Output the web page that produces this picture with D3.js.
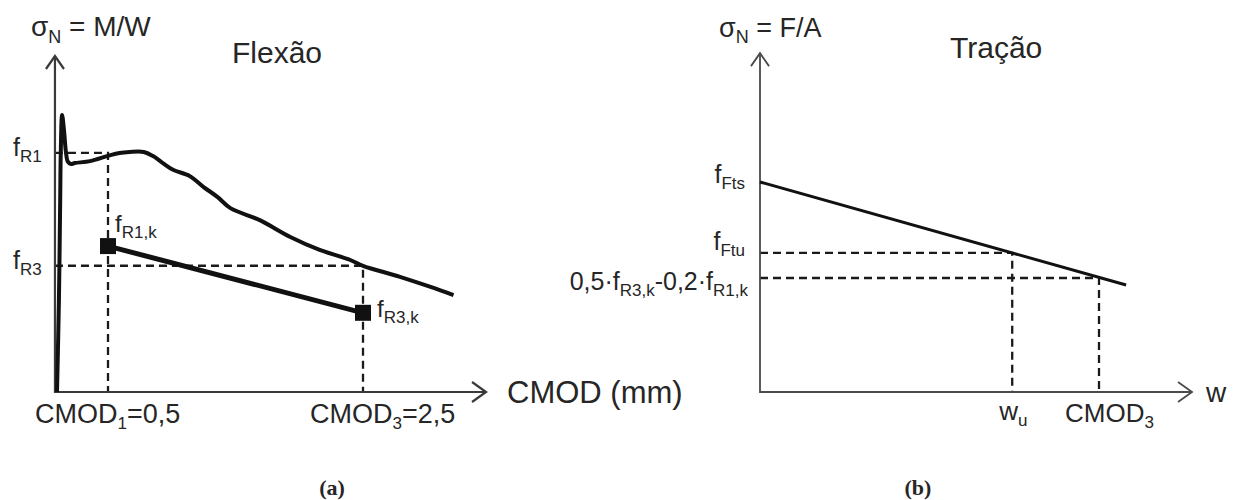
<!DOCTYPE html>
<html>
<head>
<meta charset="utf-8">
<script src="https://cdn.jsdelivr.net/npm/d3@7"></script>
<style>
  body { margin: 0; background: #fff; }
  text { font-family: "Liberation Sans", Arial, sans-serif; fill: #262626; }
</style>
</head>
<body>
<script>
// (a) flexure: residual stress curve, CMOD in mm vs sigma (schematic units)
var curveCmod  = [0.10, 0.115, 0.125, 0.13, 0.14, 0.155, 0.17, 0.185, 0.21, 0.24, 0.36, 0.50, 0.59, 0.67, 0.78, 0.85, 0.93, 1.01, 1.14, 1.25, 1.36, 1.46, 1.69, 1.93, 2.16, 2.40, 2.50, 2.79, 3.03, 3.21];
var curveSigma = [0.00, 1.90, 4.00, 5.05, 5.77, 5.45, 5.00, 4.80, 4.75, 4.77, 4.81, 4.92, 4.98, 5.00, 5.00, 4.92, 4.77, 4.63, 4.50, 4.27, 4.06, 3.83, 3.58, 3.23, 2.96, 2.75, 2.63, 2.40, 2.19, 2.02];
var charCmod  = [0.5, 2.5];      // fR1,k and fR3,k
var charSigma = [3.04, 1.65];
var fR1 = 4.98, fR3 = 2.63;
var flexAxisX = [0.084, 3.465];
var flexAxisY = [0, 7];

// (b) tension: linear model
var tensW     = [0, 2.70];
var tensSigma = [4.375, 2.229];
var wu = 1.86, cmod3 = 2.5;
var fFtu = 2.897, fResid = 2.375;
var tensAxisX = [0, 3.186];
var tensAxisY = [0, 7.06];

var svg = d3.select("body").append("svg")
    .attr("width", 1233)
    .attr("height", 500);

var xL = d3.scaleLinear().domain([0.5, 2.5]).range([108, 363]);
var yL = d3.scaleLinear().domain([0, 7]).range([392, 56]);
var xR = d3.scaleLinear().domain([0, 2.5]).range([760, 1099]);
var yR = d3.scaleLinear().domain([0, 7]).range([392, 56]);

// text with subscripts: parts = [[string, isSub], ...]
function label(g, x, y, parts, size, subSize, anchor) {
    var t = g.append("text")
        .attr("x", x).attr("y", y)
        .attr("font-size", size)
        .attr("text-anchor", anchor || "start");
    var shift = 0;
    parts.forEach(function(p) {
        var target = p[1] ? Math.round(size * 0.24) : 0;
        t.append("tspan")
            .attr("dy", target - shift)
            .attr("font-size", p[1] ? subSize : size)
            .text(p[0]);
        shift = target;
    });
    return t;
}

function axes(g, xs, ys, ax, ay, color, width) {
    var x0 = xs(ax[0]), x1 = xs(ax[1]), y0 = ys(ay[0]), y1 = ys(ay[1]);
    g.append("path")
        .attr("d", "M" + x0 + "," + y1 + "L" + x0 + "," + y0 + "L" + x1 + "," + y0)
        .attr("fill", "none").attr("stroke", color).attr("stroke-width", width);
    // open arrow heads
    g.append("path")
        .attr("d", "M" + (x0 - 9) + "," + (y1 + 13) + "L" + x0 + "," + y1 + "L" + (x0 + 9) + "," + (y1 + 13))
        .attr("fill", "none").attr("stroke", color).attr("stroke-width", width);
    g.append("path")
        .attr("d", "M" + (x1 - 14) + "," + (y0 - 10) + "L" + x1 + "," + y0 + "L" + (x1 - 14) + "," + (y0 + 10))
        .attr("fill", "none").attr("stroke", color).attr("stroke-width", width);
}

function dashed(g, pts) {
    g.append("path")
        .attr("d", d3.line()(pts))
        .attr("fill", "none")
        .attr("stroke", "#1a1a1a")
        .attr("stroke-width", 2.3)
        .attr("stroke-dasharray", "8,5");
}

// ---------- panel (a) ----------
var ga = svg.append("g");
var ox = xL(flexAxisX[0]), oy = yL(0);

dashed(ga, [[ox, yL(fR1)], [xL(0.5), yL(fR1)], [xL(0.5), oy]]);
dashed(ga, [[ox, yL(fR3)], [xL(2.5), yL(fR3)], [xL(2.5), oy]]);

axes(ga, xL, yL, flexAxisX, flexAxisY, "#3a3a3a", 2.2);

var curve = d3.range(curveCmod.length).map(function(i) { return [curveCmod[i], curveSigma[i]]; });
ga.append("path")
    .datum(curve)
    .attr("d", d3.line()
        .x(function(d) { return xL(d[0]); })
        .y(function(d) { return yL(d[1]); })
        .curve(d3.curveCatmullRom.alpha(0.5)))
    .attr("fill", "none")
    .attr("stroke", "#111")
    .attr("stroke-width", 4)
    .attr("stroke-linejoin", "round");

var chr = d3.range(charCmod.length).map(function(i) { return [charCmod[i], charSigma[i]]; });
ga.append("path")
    .datum(chr)
    .attr("d", d3.line()
        .x(function(d) { return xL(d[0]); })
        .y(function(d) { return yL(d[1]); }))
    .attr("stroke", "#111")
    .attr("stroke-width", 5);
ga.selectAll("rect.mark")
    .data(chr)
    .enter()
    .append("rect")
    .attr("class", "mark")
    .attr("x", function(d) { return xL(d[0]) - 8; })
    .attr("y", function(d) { return yL(d[1]) - 8; })
    .attr("width", 16)
    .attr("height", 16)
    .attr("fill", "#111");

label(ga, 13, yL(fR1) + 3, [["f", 0], ["R1", 1]], 25, 17);
label(ga, 13, yL(fR3) + 3, [["f", 0], ["R3", 1]], 25, 17);
label(ga, xL(0.5) + 7, yL(charSigma[0]) - 14, [["f", 0], ["R1,k", 1]], 24, 17);
label(ga, xL(2.5) + 14, yL(charSigma[1]) + 4, [["f", 0], ["R3,k", 1]], 24, 17);

label(ga, 31, 36, [["σ", 0], ["N", 1], [" = M/W", 0]], 28, 18);
ga.append("text").attr("x", 232).attr("y", 63).attr("font-size", 30).text("Flexão");
ga.append("text").attr("x", 507).attr("y", 403).attr("font-size", 31).text("CMOD (mm)");

label(ga, xL(0.5) - 73, 423, [["CMOD", 0], ["1", 1], ["=0,5", 0]], 27, 17);
label(ga, xL(2.5) - 53, 423, [["CMOD", 0], ["3", 1], ["=2,5", 0]], 27, 17);

ga.append("text")
    .attr("x", 332).attr("y", 495)
    .attr("text-anchor", "middle")
    .attr("font-size", 22)
    .attr("font-weight", "bold")
    .style("font-family", "'Liberation Serif', 'Times New Roman', serif")
    .text("(a)");

// ---------- panel (b) ----------
var gb = svg.append("g");
var bx = xR(0), by = yR(0);

dashed(gb, [[bx, yR(fFtu)], [xR(wu), yR(fFtu)], [xR(wu), by]]);
dashed(gb, [[bx, yR(fResid)], [xR(cmod3), yR(fResid)], [xR(cmod3), by]]);

axes(gb, xR, yR, tensAxisX, tensAxisY, "#4a4a4a", 1.8);

var tens = d3.range(tensW.length).map(function(i) { return [tensW[i], tensSigma[i]]; });
gb.append("path")
    .datum(tens)
    .attr("d", d3.line()
        .x(function(d) { return xR(d[0]); })
        .y(function(d) { return yR(d[1]); }))
    .attr("stroke", "#111")
    .attr("stroke-width", 3);

label(gb, 745, yR(tensSigma[0]) + 1, [["f", 0], ["Fts", 1]], 25, 17, "end");
label(gb, 745, yR(fFtu) - 3, [["f", 0], ["Ftu", 1]], 25, 17, "end");
label(gb, 748, yR(fResid) + 12, [["0,5·f", 0], ["R3,k", 1], ["-0,2·f", 0], ["R1,k", 1]], 25, 17, "end");

label(gb, 719, 37, [["σ", 0], ["N", 1], [" = F/A", 0]], 27, 18);
gb.append("text").attr("x", 950).attr("y", 58).attr("font-size", 30).text("Tração");
gb.append("text").attr("x", 1206).attr("y", 402).attr("font-size", 28).text("w");

label(gb, xR(wu) - 13, 420, [["w", 0], ["u", 1]], 26, 17);
label(gb, xR(cmod3) - 34, 422, [["CMOD", 0], ["3", 1]], 26, 17);

gb.append("text")
    .attr("x", 918).attr("y", 495)
    .attr("text-anchor", "middle")
    .attr("font-size", 22)
    .attr("font-weight", "bold")
    .style("font-family", "'Liberation Serif', 'Times New Roman', serif")
    .text("(b)");
</script>
</body>
</html>
